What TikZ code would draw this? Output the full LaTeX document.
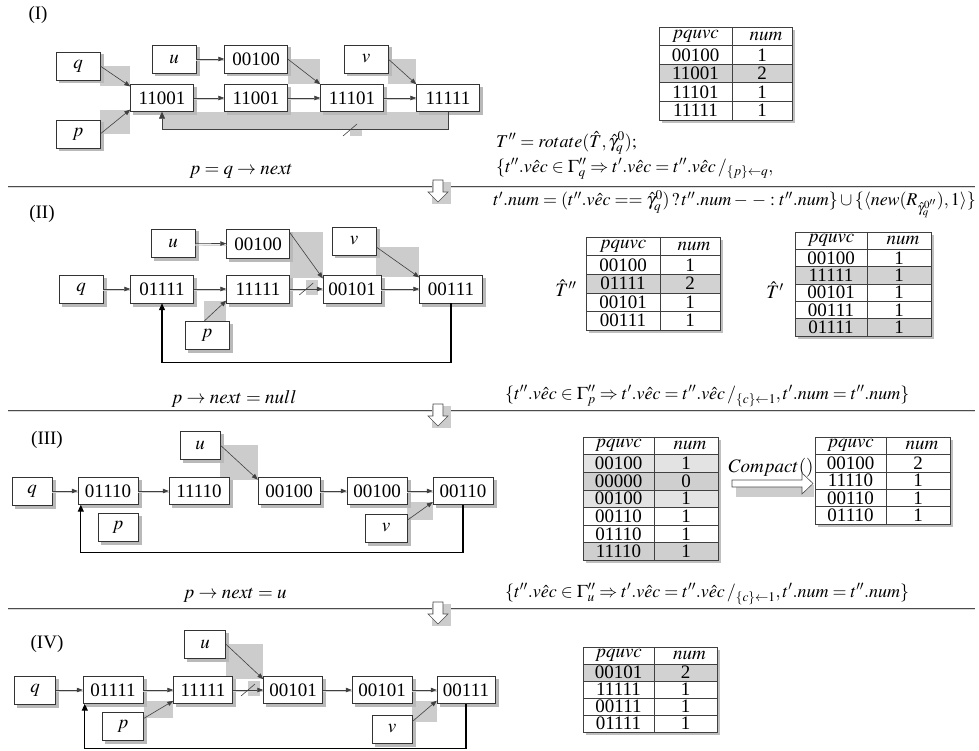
\documentclass[tikz,border=0pt]{standalone}
\usepackage{mathptmx}
\usepackage{fontspec}
\setmainfont{Liberation Serif}
\usetikzlibrary{arrows.meta,backgrounds}

\newcommand{\boxfont}{\fontsize{19}{21}\selectfont}
\newcommand{\tabfont}{\fontsize{19}{19}\selectfont}
\newcommand{\eqfont}{\fontsize{18}{20}\selectfont}

\tikzset{
  ptr/.style={draw=black!80, fill=white, minimum width=44pt, minimum height=28pt, inner sep=0pt,
    font=\boxfont, preaction={draw=gray!55, fill=gray!55, line width=1pt, transform canvas={xshift=3pt, yshift=-3pt}}},
  vecbox/.style={ptr, minimum width=63pt, minimum height=27pt},
  link/.style={-{Triangle[length=6pt,width=4.5pt]}, draw=black!75, line width=0.6pt},
  hlink/.style={link, preaction={draw=gray!35, line width=1.2pt, -, transform canvas={yshift=-1.8pt}}},
  linkshade/.style={fill=gray!40},
  back/.style={-{Triangle[length=7pt,width=6pt]}, draw=black, line width=1.2pt},
  tabline/.style={draw=black!75, line width=0.6pt},
  tabshadow/.style={fill=gray!50},
  stage/.style={font=\fontsize{19}{21}\selectfont, inner sep=0pt},
  eqn/.style={font=\eqfont, anchor=west, inner sep=0pt},
}

% diagonal link with its grey box
\newcommand{\slink}[2]{%
  \begin{scope}[on background layer]\fill[linkshade] (#1) rectangle (#2);\end{scope}
  \draw[link] (#1) -- (#2);}

% broken link mark
\newcommand{\brk}[1]{%
  \begin{scope}[on background layer]\fill[linkshade] ([shift={(0pt,-6pt)}]#1) rectangle ([shift={(12pt,9pt)}]#1);\end{scope}
  \draw[black!75, line width=0.6pt] ([shift={(-7pt,-6pt)}]#1) -- ([shift={(7pt,6pt)}]#1);}

% separator between the stages
\newcommand{\stagerule}[1]{%
  \draw[gray!30, line width=1.2pt] (8,#1+1.6) -- (975,#1+1.6);
  \draw[black!70, line width=0.7pt] (8,#1) -- (975,#1);
  \fill[gray!40] (432,#1-4) rectangle (451,#1+18);
  \draw[black!70, fill=white, line width=0.6pt] (433,#1-6) -- (443,#1-6) -- (443,#1+6) -- (448,#1+6)
    -- (438,#1+16) -- (428,#1+6) -- (433,#1+6) -- cycle;}

% name, left, top, column rule, right, row height, rows, entries
\newcommand{\valtable}[8]{%
  \pgfmathsetmacro{\tabbot}{#3+(#7+1)*#6}
  \fill[tabshadow] (#2+3,#3+3) rectangle (#5+3,\tabbot+3);
  \fill[white] (#2,#3) rectangle (#5,\tabbot);
  \node[font=\tabfont, inner sep=0pt] (#1-head) at ({(#2+#4)/2},{#3+#6/2}) {$pquvc$};
  \node[font=\tabfont, inner sep=0pt] (#1-num) at ({(#4+#5)/2+4},{#3+#6/2}) {$num$};
  \foreach \bits/\cnt/\shd [count=\i] in {#8} {
    \fill[fill=\shd] (#2,{#3+\i*#6}) rectangle (#5,{#3+(\i+1)*#6});
    \node[font=\tabfont, inner sep=0pt] (#1-\i) at ({(#2+#4)/2},{#3+(\i+0.5)*#6}) {\bits};
    \node[font=\tabfont, inner sep=0pt] (#1-c\i) at ({(#4+#5)/2},{#3+(\i+0.5)*#6}) {\cnt};
    \draw[tabline] (#2,{#3+\i*#6}) -- (#5,{#3+\i*#6});
  }
  \draw[tabline] (#2,#3) rectangle (#5,\tabbot);
  \draw[tabline] (#4,#3) -- (#4,\tabbot);
}

\begin{document}
\begin{tikzpicture}[x=1pt,y=-1pt]
  \useasboundingbox (0,0) rectangle (979,751);

  % ---------- (I)
  \node[stage] (s1) at (38,15) {(I)};
  \node[ptr] (q1) at (78,66) {$q$};
  \node[ptr] (p1) at (78,134) {$p$};
  \node[ptr] (u1) at (174,59) {$u$};
  \node[ptr] (v1) at (366,59) {$v$};
  \node[vecbox, minimum height=28pt] (c1) at (256,59) {00100};
  \node[vecbox] (a1) at (162,98) {11001};
  \node[vecbox] (b1) at (256,98) {11001};
  \node[vecbox] (d1) at (352,98) {11101};
  \node[vecbox] (e1) at (448,98) {11111};

  \slink{q1.east}{a1.160}
  \slink{p1.east}{a1.200}
  \slink{c1.east}{d1.north west}
  \slink{v1.east}{e1.north west}
  \draw[hlink] (u1) -- (c1);
  \draw[hlink] (a1) -- (b1);
  \draw[hlink] (b1) -- (d1);
  \draw[hlink] (d1) -- (e1);
  \begin{scope}[on background layer]
    \fill[linkshade] (a1.south) rectangle ([yshift=-18pt]e1.south);
  \end{scope}
  \draw[link, -{Triangle[length=7pt,width=6pt]}] (e1.south) -- ++(0,18) -| (a1.south);
  \coordinate (k1) at (350,130);
  \brk{k1}

  \valtable{t1}{659}{27}{732}{792}{18.6}{4}{00100/1/white, 11001/2/gray!35, 11101/1/white, 11111/1/white}
  \node[eqn] (f1) at (496,143) {$T''=rotate(\hat{T},\hat{\gamma}_q^0);$};
  \node[eqn] (f2) at (496,169) {$\{t''.v\hat{e}c\in\Gamma''_q\Rightarrow t'.v\hat{e}c=t''.v\hat{e}c\,/_{\{p\}\leftarrow q},$};
  \node[stage] (o1) at (241,171) {$p=q\rightarrow next$};
  \stagerule{186}

  % ---------- (II)
  \node[stage] (s2) at (42,214) {(II)};
  \node[eqn] (f3) at (493,204) {$t'.num=(t''.v\hat{e}c==\hat{\gamma}_q^0)\,?\,t''.num-\,-:t''.num\}\cup\{\langle new(R_{\hat{\gamma}_q^{0''}}),1\rangle\}$};
  \node[ptr] (u2) at (173,243) {$u$};
  \node[vecbox, minimum height=29pt] (e2) at (258,244) {00100};
  \node[ptr] (v2) at (354,241) {$v$};
  \node[ptr] (q2) at (81,289) {$q$};
  \node[vecbox, minimum height=28pt] (a2) at (162,289) {01111};
  \node[vecbox, minimum height=28pt] (b2) at (258,289) {11111};
  \node[vecbox, minimum height=28pt, minimum width=58pt] (c2) at (352,289) {00101};
  \node[vecbox, minimum height=28pt] (d2) at (451,289) {00111};
  \node[ptr] (p2) at (207,335) {$p$};

  \draw[hlink] (u2) -- (e2);
  \draw[hlink] (q2) -- (a2);
  \draw[hlink] (a2) -- (b2);
  \draw[hlink] (b2) -- coordinate[midway] (k2) (c2);
  \brk{k2}
  \draw[hlink] (c2) -- (d2);
  \slink{e2.20}{c2.160}
  \slink{v2.-15}{d2.160}
  \slink{p2.100}{b2.200}
  \draw[back] (d2.south) -- ++(0,59) -| (a2.south);

  \node[stage] (l2) at (566,288) {$\hat{T}''$};
  \valtable{t2}{586}{237}{660}{720}{18.6}{4}{00100/1/white, 01111/2/gray!35, 00101/1/white, 00111/1/white}
  \node[stage] (l3) at (775,290) {$\hat{T}'$};
  \valtable{t3}{795}{232}{867}{931}{17.3}{5}{00100/1/white, 11111/1/gray!35, 00101/1/white, 00111/1/white, 01111/1/gray!35}

  \node[stage] (o2) at (234,399) {$p\rightarrow next=null$};
  \node[eqn] (f4) at (505,396) {$\{t''.v\hat{e}c\in\Gamma''_p\Rightarrow t'.v\hat{e}c=t''.v\hat{e}c\,/_{\{c\}\leftarrow 1},t'.num=t''.num\}$};
  \stagerule{410}

  % ---------- (III)
  \node[stage] (s3) at (47,440) {(III)};
  \node[ptr, minimum width=40pt] (u3) at (200,445) {$u$};
  \node[ptr, minimum width=40pt] (q3) at (32,491) {$q$};
  \node[vecbox, minimum width=60pt] (a3) at (108,491) {01110};
  \node[vecbox, minimum width=60pt] (b3) at (199,491) {11110};
  \node[vecbox, minimum width=62pt] (c3) at (289,491) {00100};
  \node[vecbox, minimum width=60pt] (d3) at (377,491) {00100};
  \node[vecbox, minimum width=60pt] (e3) at (463,491) {00110};
  \node[ptr, minimum width=40pt] (p3) at (118,527) {$p$};
  \node[ptr, minimum width=42pt] (v3) at (386,528) {$v$};

  \draw[hlink] (q3) -- (a3);
  \draw[hlink] (a3) -- (b3);
  \draw[hlink] (c3) -- (d3);
  \draw[hlink] (d3) -- (e3);
  \slink{u3.east}{c3.160}
  \slink{v3.20}{e3.200}
  \draw[back] (e3.south) -- ++(0,47.5) -| ([xshift=3pt]a3.south west);

  \valtable{t4}{583}{437}{654}{718}{17.6}{6}{00100/1/gray!22, 00000/0/gray!38, 00100/1/gray!22, 00110/1/white, 01110/1/white, 11110/1/gray!38}
  \node[stage] (cp) at (771,468) {$Compact()$};
  \fill[gray!40] (736,485) rectangle (814,497);
  \draw[black!70, fill=white, line width=0.6pt] (732,480) -- (802,480) -- (802,473) -- (813,483.5)
    -- (802,494) -- (802,487) -- (732,487) -- cycle;
  \valtable{t5}{815}{437}{886}{950}{17.4}{4}{00100/2/white, 11110/1/white, 00110/1/white, 01110/1/white}

  \node[stage] (o3) at (235,595) {$p\rightarrow next=u$};
  \node[eqn] (f5) at (505,594) {$\{t''.v\hat{e}c\in\Gamma''_u\Rightarrow t'.v\hat{e}c=t''.v\hat{e}c\,/_{\{c\}\leftarrow 1},t'.num=t''.num\}$};
  \stagerule{608}

  % ---------- (IV)
  \node[stage] (s4) at (47,644) {(IV)};
  \node[ptr, minimum width=41pt] (u4) at (205,644) {$u$};
  \node[ptr, minimum width=41pt] (q4) at (35,690) {$q$};
  \node[vecbox, minimum width=60pt] (a4) at (113,690) {01111};
  \node[vecbox, minimum width=59pt] (b4) at (203,690) {11111};
  \node[vecbox, minimum width=59pt] (c4) at (293,690) {00101};
  \node[vecbox, minimum width=60pt] (d4) at (382,690) {00101};
  \node[vecbox, minimum width=58pt] (e4) at (466,690) {00111};
  \node[ptr, minimum width=41pt] (p4) at (123,726) {$p$};
  \node[ptr, minimum width=40pt] (v4) at (392,729) {$v$};

  \draw[hlink] (q4) -- (a4);
  \draw[hlink] (a4) -- (b4);
  \draw[hlink] (b4) -- coordinate[midway] (k4) (c4);
  \brk{k4}
  \draw[hlink] (c4) -- (d4);
  \draw[hlink] (d4) -- (e4);
  \slink{u4.east}{c4.160}
  \slink{p4.20}{b4.200}
  \slink{v4.20}{e4.200}
  \draw[back] (e4.south) -- ++(0,45) -| ([xshift=2pt]a4.south west);

  \valtable{t6}{583}{647}{654}{717}{17}{4}{00101/2/gray!35, 11111/1/white, 00111/1/white, 01111/1/white}
\end{tikzpicture}
\end{document}
